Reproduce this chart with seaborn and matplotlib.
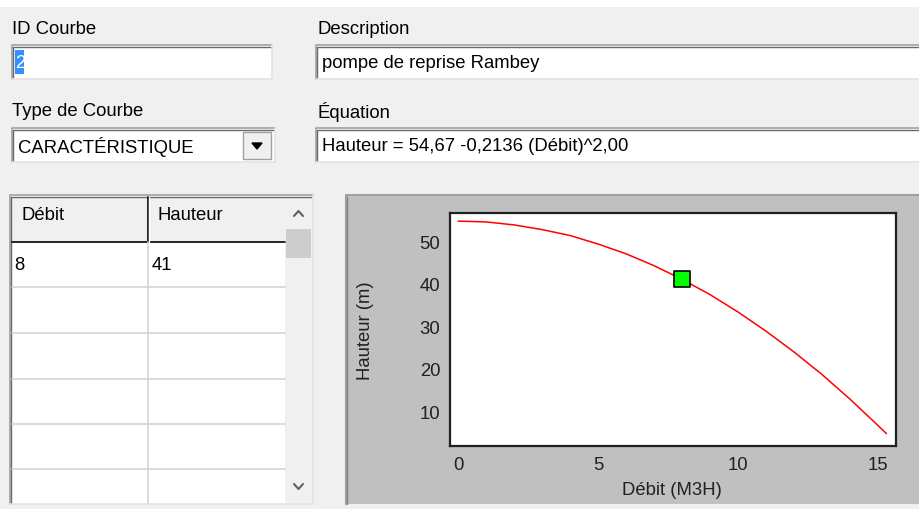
"""
EPANET-style curve editor: pump head curve with its form fields and data grid.
"""

import seaborn as sns
import matplotlib.pyplot as plt
from matplotlib.patches import Rectangle, Polygon
import pandas as pd

# Data
CURVE_ID = '2'
DESCRIPTION = 'pompe de reprise Rambey'
CURVE_TYPE = 'CARACTÉRISTIQUE'
EQUATION = 'Hauteur = 54,67 -0,2136 (Débit)^2,00'
GRID_HEADERS = ['Débit', 'Hauteur']
GRID_FLOW = ['8']
GRID_HEAD = ['41']

# points
curve_flow = [0, 1, 2, 3, 4, 5, 6, 7, 8, 9, 10, 11, 12, 13, 14, 15, 15.3]
curve_head = [54.7, 54.5, 53.8, 52.7, 51.3, 49.3, 47.0, 44.2, 41.0, 37.4,
              33.3, 28.8, 23.9, 18.6, 12.8, 6.6, 4.7]
point_flow = [8]
point_head = [41]
x_ticks = [0, 5, 10, 15]
y_ticks = [10, 20, 30, 40, 50]

W, H = 920, 510
FONT = 'Liberation Sans'
FS = 13.3
BG = '#f0f0f0'

sns.set_style('white')
plt.rcParams['font.family'] = [FONT, 'DejaVu Sans']


def sunken_box(bg, x, y, w, h, face='white'):
    """White edit box with a sunken Windows border."""
    bg.add_patch(Rectangle((x, y), w, h, facecolor=face, edgecolor='none'))
    bg.plot([x, x, x + w], [y + h, y, y], color='#a0a0a0', lw=1.2)
    bg.plot([x + 1.5, x + 1.5, x + w - 1], [y + h - 1, y + 1.5, y + 1.5],
            color='#696969', lw=1.0)
    bg.plot([x, x + w, x + w], [y + h, y + h, y], color='#e3e3e3', lw=1.2)


def main():
    fig = plt.figure(figsize=(W / 100, H / 100), dpi=100)
    fig.patch.set_facecolor(BG)

    # pixel-space overlay for the dialog widgets
    bg = fig.add_axes([0, 0, 1, 1])
    bg.set_xlim(0, W)
    bg.set_ylim(H, 0)
    bg.axis('off')
    bg.add_patch(Rectangle((0, 0), W, 8, facecolor='white', edgecolor='none'))

    # labels + fields
    bg.text(12, 30, 'ID Courbe', fontsize=FS, va='center', color='black')
    sunken_box(bg, 12, 46, 260, 34)
    bg.add_patch(Rectangle((15, 51), 9, 24, facecolor='#3390ff', edgecolor='none'))
    bg.text(15, 63, CURVE_ID, fontsize=FS, va='center', color='white')

    bg.text(318, 30, 'Description', fontsize=FS, va='center', color='black')
    sunken_box(bg, 316, 46, 610, 34)
    bg.text(322, 63, DESCRIPTION, fontsize=FS, va='center', color='black')

    bg.text(12, 112, 'Type de Courbe', fontsize=FS, va='center', color='black')
    sunken_box(bg, 12, 129, 263, 34)
    bg.text(18, 147, CURVE_TYPE, fontsize=FS, va='center', color='black')
    bg.add_patch(Rectangle((243, 133), 28, 27, facecolor=BG, edgecolor='#a0a0a0', lw=1))
    bg.add_patch(Polygon([[252, 144], [262, 144], [257, 150]], closed=True,
                         facecolor='black', edgecolor='black'))

    bg.text(318, 112, 'Équation', fontsize=FS, va='center', color='black')
    sunken_box(bg, 316, 129, 610, 34)
    bg.text(322, 147, EQUATION, fontsize=FS, va='center', color='black')

    # data grid
    gx0, gy0, gx1, gy1 = 10, 196, 313, 505
    sunken_box(bg, gx0, gy0, gx1 - gx0, gy1 - gy0)
    col_x = [12, 148, 285]
    bg.add_patch(Rectangle((12, 198), 273, 45, facecolor=BG, edgecolor='none'))
    bg.plot([12, 285], [243, 243], color='black', lw=1.2)
    bg.plot([148, 148], [198, 243], color='black', lw=1.2)
    bg.plot([149.5, 149.5], [198, 243], color='white', lw=1.0)
    for i, head in enumerate(GRID_HEADERS):
        bg.text(col_x[i] + 10, 216, head, fontsize=FS, va='center', color='black')
    for y in [288, 334, 380, 425, 470]:
        bg.plot([12, 285], [y, y], color='#d4d4d4', lw=1.2)
    bg.plot([148, 148], [243, 504], color='#d4d4d4', lw=1.2)
    for i, (q, h) in enumerate(zip(GRID_FLOW, GRID_HEAD)):
        bg.text(14, 266 + i * 46, q, fontsize=FS, va='center', color='black')
        bg.text(152, 266 + i * 46, h, fontsize=FS, va='center', color='black')
    # scrollbar
    bg.add_patch(Rectangle((285, 198), 27, 306, facecolor=BG, edgecolor='none'))
    bg.add_patch(Rectangle((286, 230), 25, 29, facecolor='#cdcdcd', edgecolor='none'))
    bg.plot([294, 298.5, 303], [217, 212, 217], color='#606060', lw=1.5)
    bg.plot([294, 298.5, 303], [485, 490, 485], color='#606060', lw=1.5)

    # gray chart panel
    bg.add_patch(Rectangle((346, 196), W - 346, 309, facecolor='#c0c0c0', edgecolor='none'))
    bg.plot([346, 346, W], [505, 196, 196], color='#a0a0a0', lw=1.5)
    bg.plot([347.5, 347.5], [505, 197.5], color='#808080', lw=1.0)

    # chart
    ax = fig.add_axes([450 / W, (H - 447) / H, 446 / W, 233 / H])
    ax.set_facecolor('white')
    df_curve = pd.DataFrame({'Débit': curve_flow, 'Hauteur': curve_head})
    df_point = pd.DataFrame({'Débit': point_flow, 'Hauteur': point_head})
    sns.lineplot(data=df_curve, x='Débit', y='Hauteur', color='red',
                 linewidth=1.1, ax=ax, sort=False)
    sns.scatterplot(data=df_point, x='Débit', y='Hauteur', marker='s', s=140,
                    color='#00ff00', edgecolor='black', linewidth=1.2,
                    ax=ax, zorder=5)

    ax.set_xlim(-0.29, 15.64)
    ax.set_ylim(1.8, 56.6)
    ax.set_xticks(x_ticks)
    ax.set_yticks(y_ticks)
    ax.tick_params(axis='both', direction='out', length=5, width=1,
                   color='#404040', labelsize=FS, labelcolor='#202020', pad=2)
    for s in ax.spines.values():
        s.set_color('#202020')
        s.set_linewidth(1.6)
    ax.set_xlabel('Débit (M3H)', fontsize=FS, color='#202020')
    ax.set_ylabel('Hauteur (m)', fontsize=FS, color='#202020')
    ax.xaxis.set_label_coords((672 - 450) / 446, (447 - 482) / 233)
    ax.yaxis.set_label_coords((374 - 450) / 446, 0.5)
    ax.grid(False)

    fig.savefig('out.png', dpi=100, facecolor=BG)
    plt.close(fig)


if __name__ == "__main__":
    main()
